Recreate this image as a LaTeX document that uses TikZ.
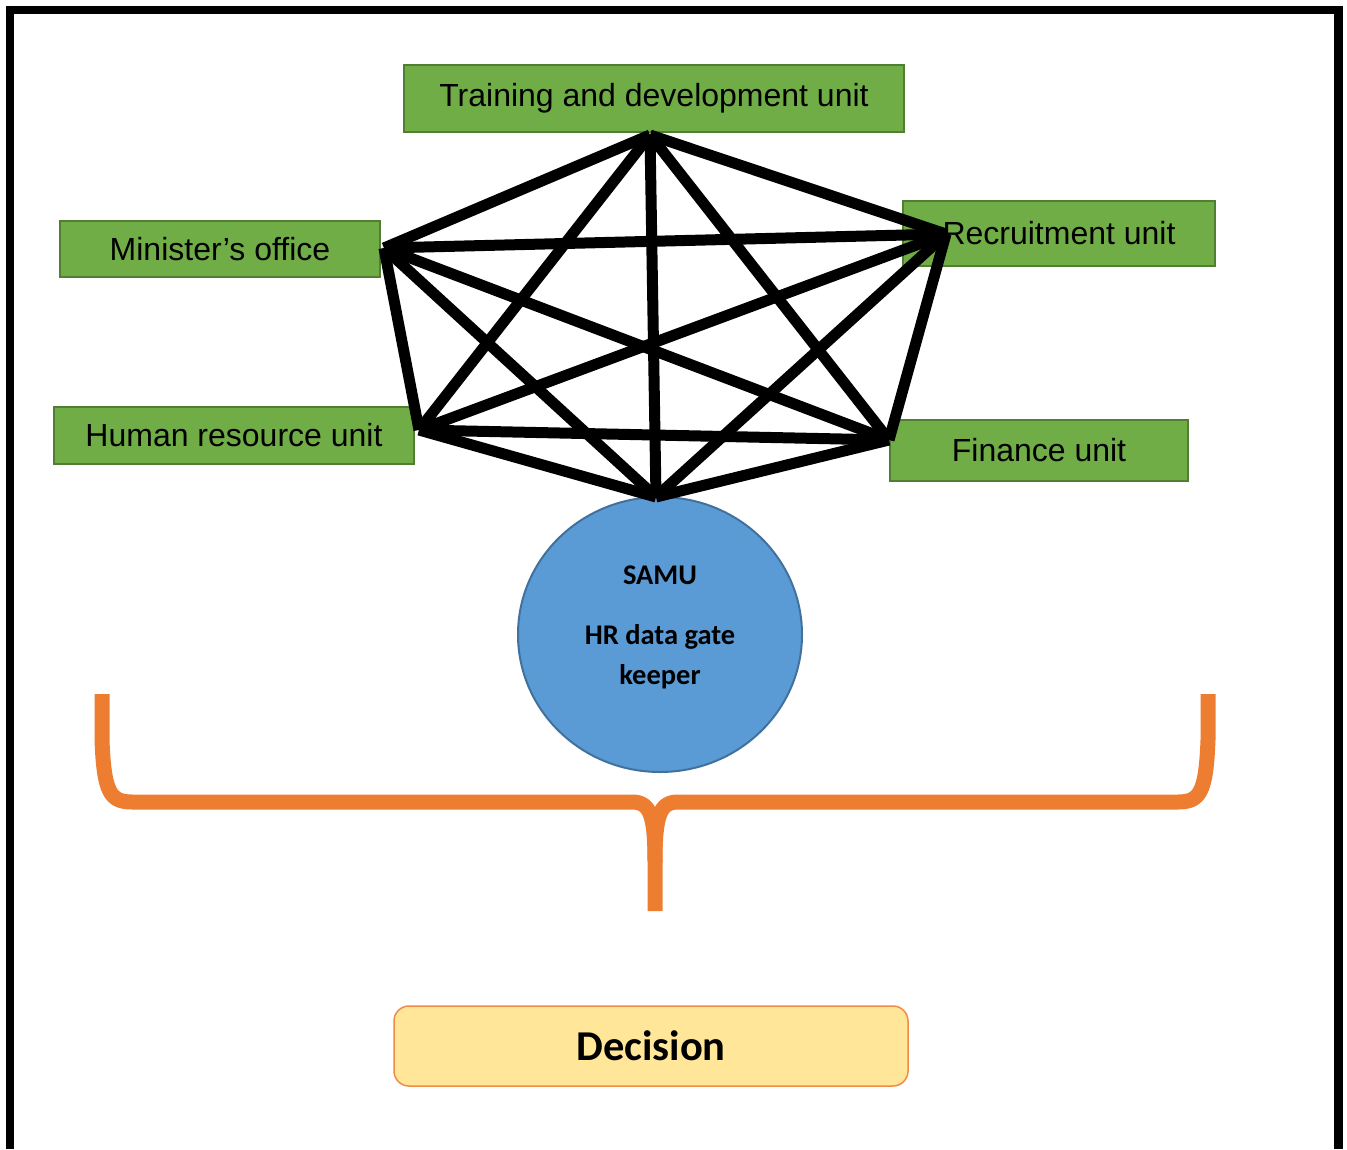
\documentclass[tikz,border=0pt]{standalone}
\usepackage{fontspec}
\setmainfont{Liberation Sans}
\newfontfamily\calibri{Carlito}
\usetikzlibrary{shapes.geometric}
\definecolor{unitgreen}{HTML}{70AD47}
\definecolor{unitedge}{HTML}{507E32}
\definecolor{samublue}{HTML}{5B9BD5}
\definecolor{samuedge}{HTML}{41719C}
\definecolor{braceorange}{HTML}{ED7D31}
\definecolor{decfill}{HTML}{FFE699}
\definecolor{decedge}{HTML}{F08C45}
\begin{document}
\begin{tikzpicture}[x=1pt,y=-1pt,
  unit/.style={draw=unitedge, line width=2pt, fill=unitgreen, inner sep=0pt,
    font=\fontsize{32}{38}\selectfont},
  link/.style={line width=11pt, line cap=butt},
  brace/.style={draw=braceorange, line width=15pt, line cap=butt, line join=round}]
\useasboundingbox (0,0) rectangle (1347,1149);
\fill[white] (0,0) rectangle (1347,1149);

% outer frame, open at the bottom
\draw[line width=8.5pt, line join=miter] (10,1149) -- (10,10) -- (1338.5,10) -- (1338.5,1149);

% unit boxes
\node[unit, minimum width=500pt, minimum height=67pt] (train) at (654,98.5) {Training and development unit};
\node[unit, minimum width=320pt, minimum height=56pt] (minister) at (220,249) {Minister’s office};
\node[unit, minimum width=312pt, minimum height=65pt] (recruit) at (1059,233.5) {Recruitment unit};
\node[unit, minimum width=360pt, minimum height=57pt] (hr) at (234,435) {Human resource unit};
\node[unit, minimum width=298pt, minimum height=61pt] (finance) at (1039,450.5) {Finance unit};

% SAMU gate keeper
\node[ellipse, draw=samuedge, line width=2pt, fill=samublue, inner sep=0pt,
  minimum width=284pt, minimum height=275pt] (samu) at (660,634.5) {};
\node[font=\calibri\bfseries\fontsize{28.5}{40}\selectfont, align=center] (samutext) at (660,627)
  {SAMU\\[20pt]HR data gate\\keeper};

% meeting points of the links
\coordinate (vT) at (650,135);
\coordinate (vM) at (384,248);
\coordinate (vR) at (946,234);
\coordinate (vH) at (419,430);
\coordinate (vF) at (889,440);
\coordinate (vS) at (656,497);

% every unit linked with every other one
\foreach \a/\b in {vT/vM, vT/vR, vT/vH, vT/vF, vT/vS,
                   vM/vR, vM/vH, vM/vF, vM/vS,
                   vR/vH, vR/vF, vR/vS,
                   vH/vF, vH/vS,
                   vF/vS}
  \draw[link] (\a) -- (\b);

% curly brace gathering everything into the decision
\coordinate (bL) at (102,694);
\coordinate (bR) at (1208,694);
\coordinate (bTip) at (655,911);
\draw[brace] (bL) -- (102,740) .. controls (104,792) and (110,802) .. (132,802)
  -- (632,802) .. controls (650,802) and (655,815) .. (655,862) -- (bTip);
\draw[brace] (bR) -- (1208,740) .. controls (1206,792) and (1200,802) .. (1178,802)
  -- (678,802) .. controls (660,802) and (655,815) .. (655,862);

% decision
\node[draw=decedge, line width=1.5pt, fill=decfill, rounded corners=15pt,
  minimum width=514pt, minimum height=80pt, inner sep=0pt,
  font=\calibri\bfseries\fontsize{42.5}{50}\selectfont] (decision) at (651,1046) {Decision};
\end{tikzpicture}
\end{document}
